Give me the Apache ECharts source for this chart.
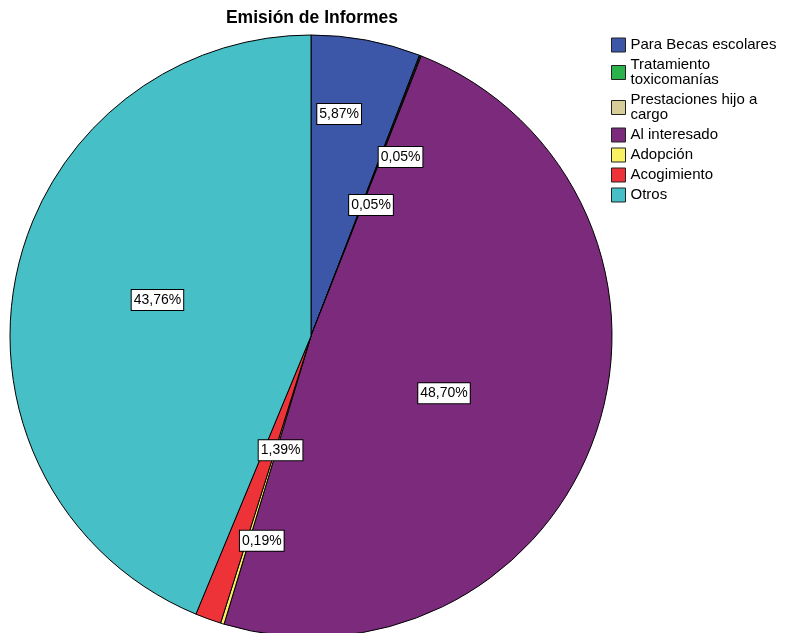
<!DOCTYPE html>
<html>
<head>
<meta charset="utf-8">
<script src="https://cdn.jsdelivr.net/npm/echarts@6/dist/echarts.min.js"></script>
<style>
html,body{margin:0;padding:0;background:#fff;}
#chart{width:791px;height:633px;}
</style>
</head>
<body>
<div id="chart"></div>
<script>
const categories = ["Para Becas escolares", "Tratamiento\ntoxicomanías", "Prestaciones hijo a\ncargo", "Al interesado", "Adopción", "Acogimiento", "Otros"];
const percentages = [5.87, 0.05, 0.05, 48.70, 0.19, 1.39, 43.76];
const colors = ["#3c56a8", "#2bb24c", "#d6cd98", "#7c2a7c", "#f7f163", "#ee3338", "#47bfc6"];
// label nudges away from the default inside position (style only)
const labelNudges = [[0, -71], [34, -36], [4, 12], [-12, 7], [-4, 58], [22, -30], [-3, -6]];

const chart = echarts.init(document.getElementById('chart'));
const FONT = '"Liberation Sans", Arial, sans-serif';
chart.setOption({
  animation: false,
  title: {
    text: 'Emisión de Informes',
    left: 312, top: 9, padding: 0, textAlign: 'center',
    textStyle: {fontFamily: FONT, fontSize: 17.5, fontWeight: 'bold', color: '#000'}
  },
  legend: {
    orient: 'vertical',
    left: 611, top: 37.5, padding: 0,
    itemWidth: 14, itemHeight: 14, itemGap: 5,
    icon: 'rect',
    itemStyle: {borderColor: '#222', borderWidth: 1},
    textStyle: {fontFamily: FONT, fontSize: 15, color: '#000', lineHeight: 15, padding: [0, 0, 0, 0]},
    data: categories
  },
  series: [{
    type: 'pie',
    center: [311, 336],
    radius: [0, 301],
    startAngle: 90,
    clockwise: true,
    avoidLabelOverlap: false,
    itemStyle: {borderColor: '#000', borderWidth: 1},
    label: {
      show: true,
      position: 'inside',
      fontFamily: FONT, fontSize: 14, color: '#000',
      backgroundColor: '#fff', borderColor: '#000', borderWidth: 1,
      padding: [3, 2, 3, 2],
      formatter: p => p.value.toFixed(2).replace('.', ',') + '%'
    },
    labelLine: {show: false},
    emphasis: {disabled: true},
    data: categories.map((c, i) => ({
      name: c,
      value: percentages[i],
      itemStyle: {color: colors[i]},
      label: {offset: labelNudges[i]}
    }))
  }]
});
</script>
</body>
</html>
